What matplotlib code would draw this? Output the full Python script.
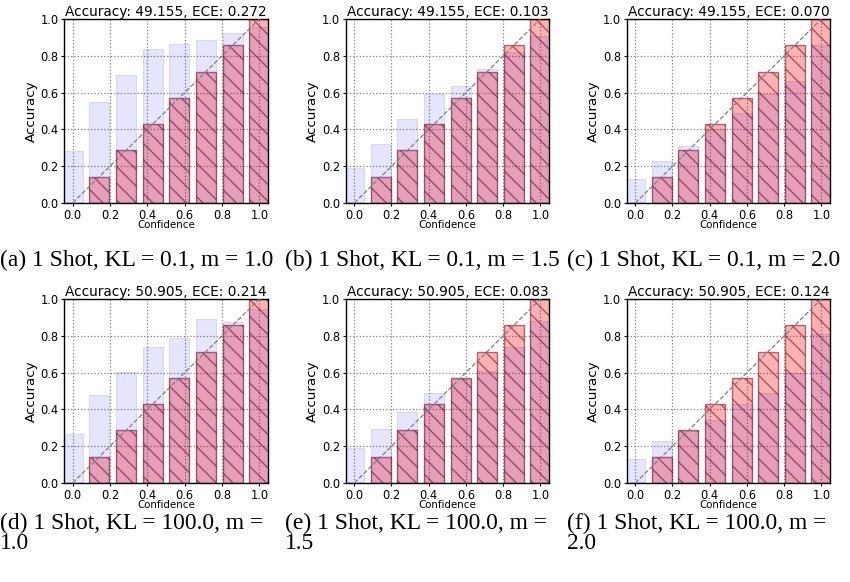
import numpy as np
import matplotlib
matplotlib.use("Agg")
import matplotlib.pyplot as plt

# ---- data ----
bin_centers = [0.0, 1/7, 2/7, 3/7, 4/7, 5/7, 6/7, 1.0]
acc_a = [0.284, 0.547, 0.696, 0.835, 0.862, 0.886, 0.922, 0.958]
acc_b = [0.192, 0.319, 0.457, 0.591, 0.634, 0.726, 0.819, 0.907]
acc_c = [0.130, 0.230, 0.312, 0.400, 0.487, 0.592, 0.663, 0.859]
acc_d = [0.264, 0.478, 0.601, 0.737, 0.786, 0.891, 0.875, 0.946]
acc_e = [0.188, 0.292, 0.386, 0.491, 0.565, 0.610, 0.737, 0.880]
acc_f = [0.132, 0.226, 0.280, 0.342, 0.428, 0.491, 0.596, 0.810]
accuracies = [acc_a, acc_b, acc_c, acc_d, acc_e, acc_f]
titles = ["Accuracy: 49.155, ECE: 0.272", "Accuracy: 49.155, ECE: 0.103",
          "Accuracy: 49.155, ECE: 0.070", "Accuracy: 50.905, ECE: 0.214",
          "Accuracy: 50.905, ECE: 0.083", "Accuracy: 50.905, ECE: 0.124"]
captions = ["(a) 1 Shot, KL = 0.1, m = 1.0", "(b) 1 Shot, KL = 0.1, m = 1.5",
            "(c) 1 Shot, KL = 0.1, m = 2.0", "(d) 1 Shot, KL = 100.0, m =\n1.0",
            "(e) 1 Shot, KL = 100.0, m =\n1.5", "(f) 1 Shot, KL = 100.0, m =\n2.0"]
ticks = [0.0, 0.2, 0.4, 0.6, 0.8, 1.0]

W, H = 850, 582
fig = plt.figure(figsize=(W/100, H/100), dpi=100)

col_x = [(64, 268), (345.7, 549), (626.7, 830)]
row_y = [(19, 203), (299, 483)]
cap_x = [0, 285, 567]
cap_y = [260, 533]

for k in range(6):
    r, c = divmod(k, 3)
    x0, x1 = col_x[c]
    y0, y1 = row_y[r]
    ax = fig.add_axes([x0/W, 1 - y1/H, (x1-x0)/W, (y1-y0)/H])
    ax.set_axisbelow(True)
    ax.grid(True, color='gray', linestyle=':', linewidth=0.9)
    ax.bar(bin_centers, bin_centers, width=0.107,
           facecolor=(1, 0, 0, 0.3), edgecolor=(0.45, 0.0, 0.1, 0.55),
           hatch='\\\\', linewidth=1.0, zorder=2)
    ax.bar(bin_centers, accuracies[k], width=0.107, alpha=0.1, edgecolor='black',
           color='b', linewidth=0.8, zorder=3)
    ax.plot([0, 1], [0, 1], '--', color='gray', linewidth=0.9, zorder=4)
    ax.set_xlim(-0.046, 1.046)
    ax.set_ylim(0, 1)
    ax.set_xticks(ticks)
    ax.set_yticks(ticks)
    ax.set_xticklabels([f"{t:.1f}" for t in ticks])
    ax.set_yticklabels([f"{t:.1f}" for t in ticks])
    ax.tick_params(labelsize=8.3, length=2.5, width=0.8, pad=1.5)
    ax.set_title(titles[k], fontsize=9.8, pad=1.5)
    ax.set_ylabel("Accuracy", fontsize=9.7, labelpad=2)
    for s in ax.spines.values():
        s.set_linewidth(1.0)
    # x label
    fig.text((x0 + x1) / 2 / W, 1 - (y1 + 22) / H, "Confidence", fontsize=7.4,
             ha='center', va='center')
    fig.text(cap_x[c] / W, 1 - cap_y[r] / H, captions[k], fontsize=16.9,
             family='Liberation Serif', ha='left', va='center',
             linespacing=0.93)

fig.savefig("out.png", dpi=100)
